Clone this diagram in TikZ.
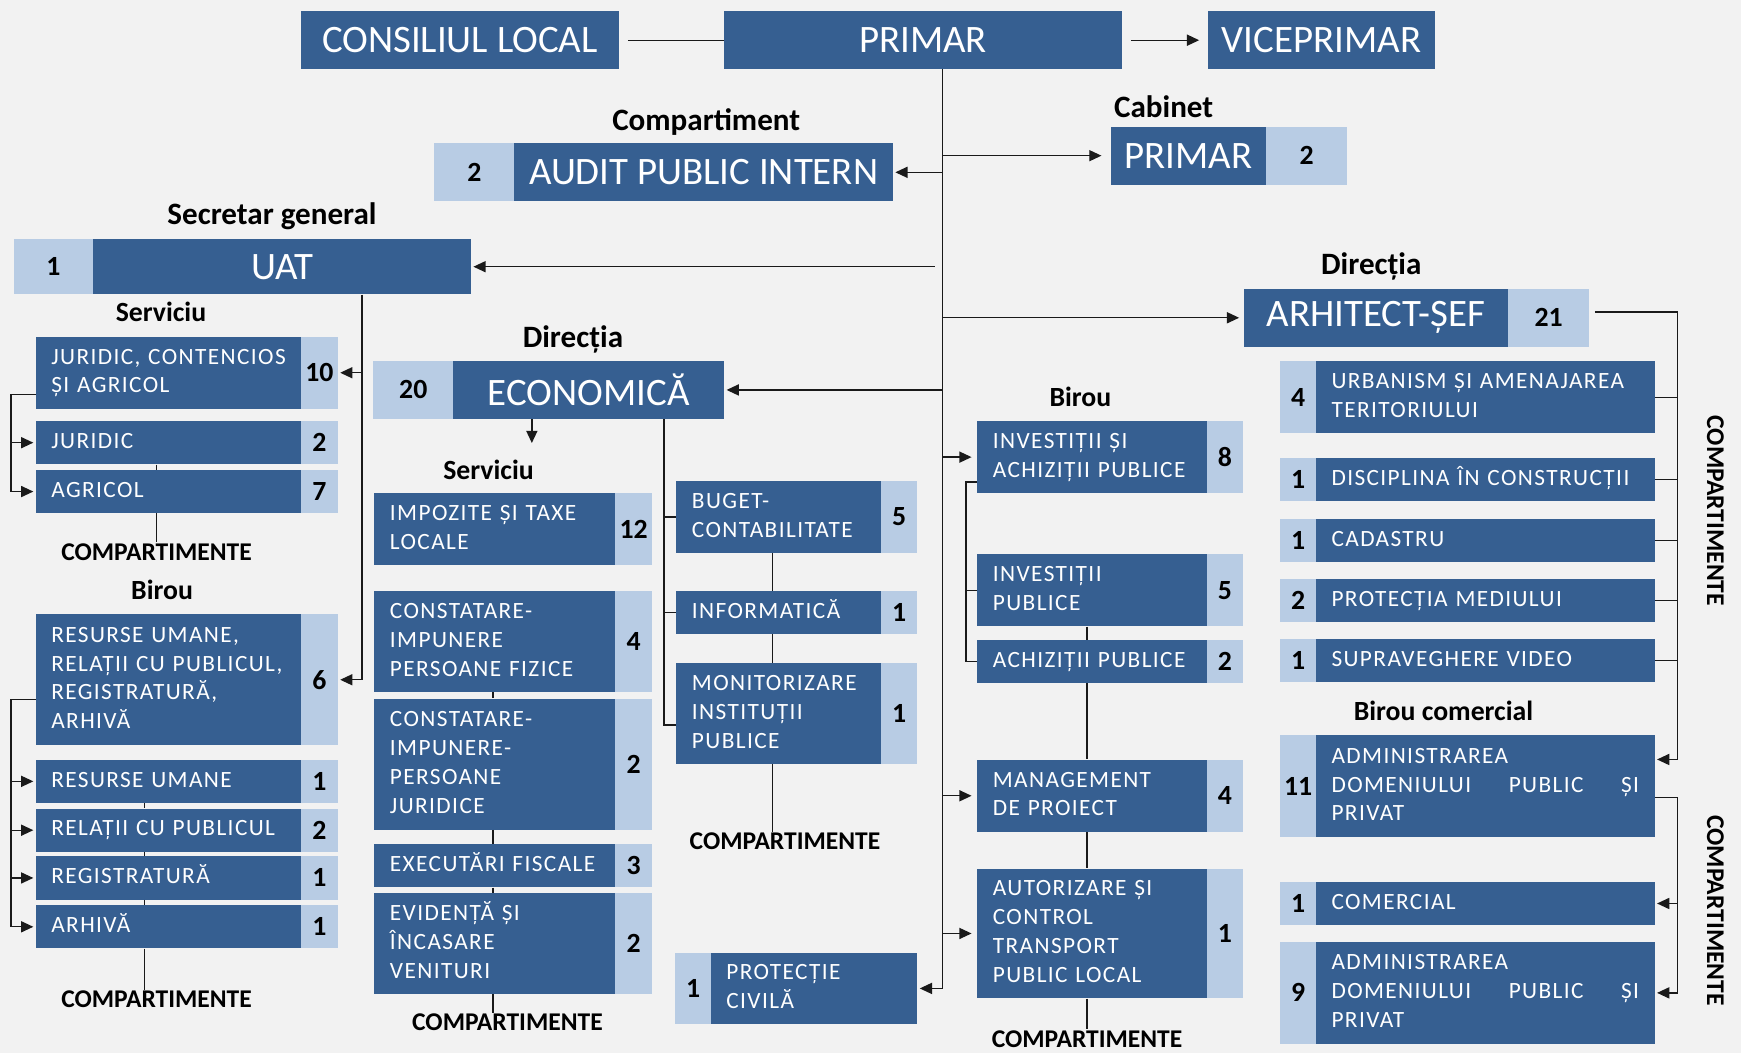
\documentclass[tikz,border=0pt]{standalone}
\usepackage{fontspec}
\setmainfont{Carlito}
\newfontfamily\boxfont[LetterSpace=6]{Carlito}
\usetikzlibrary{arrows.meta}
\definecolor{dkb}{HTML}{365F91}
\definecolor{ltb}{HTML}{B8CCE4}
\definecolor{bgc}{HTML}{F2F2F2}
\definecolor{lnc}{HTML}{1A1A1A}
\newcommand\bigf{\fontsize{35}{40}\selectfont}
\newcommand\smf{\boxfont\fontsize{21}{26}\selectfont}
\newcommand\numf{\bfseries\fontsize{25}{28}\selectfont}
\newcommand\lblf{\bfseries\fontsize{28}{32}\selectfont}
\newcommand\lblsf{\bfseries\fontsize{25}{30}\selectfont}
\newcommand\cmpf{\bfseries\fontsize{23}{26}\selectfont}
\newcommand\mytl[1]{\begin{tabular}{@{}l@{}}#1\end{tabular}}
\newcommand\bx[7]{%
  \pgfmathsetmacro\myBW{#5-#3}%
  \pgfmathsetmacro\myBH{#6-#4}%
  \pgfmathsetmacro\myTW{#5-#3-28}%
  \node[#1, anchor=north west, minimum width=\myBW pt, minimum height=\myBH pt] (#2) at (#3,#4) {#7};%
}
\tikzset{
  bbox/.style={fill=dkb, draw=none, inner sep=0pt, text=white, font=\bigf, align=center},
  sbox/.style={fill=dkb, draw=none, inner ysep=0pt, inner xsep=14pt, text=white, font=\smf, text width=\myTW pt, align=left},
  nbox/.style={fill=ltb, draw=none, inner sep=0pt, text=black, font=\numf, align=center},
  lbl/.style={font=\lblf, inner sep=1pt},
  lbls/.style={font=\lblsf, inner sep=1pt},
  cmp/.style={font=\cmpf, inner sep=1pt},
  ln/.style={draw=lnc, line width=1.2pt},
  arr/.style={ln, -{Triangle[length=11pt,width=10pt]}, shorten >=2pt},
}
\begin{document}
\begin{tikzpicture}[x=1pt,y=-1pt]
\fill[bgc] (0,0) rectangle (1568,948);
\useasboundingbox (0,0) rectangle (1568,948);

% top row
\bx{bbox}{cl}{271}{10}{557}{62}{CONSILIUL LOCAL}
\bx{bbox}{pr}{652}{10}{1010}{62}{PRIMAR}
\bx{bbox}{vp}{1088}{10}{1292}{62}{VICEPRIMAR}

% audit
\node[lbl] (lcomp) at (636,110) {Compartiment};
\bx{nbox}{auN}{391}{129}{463}{181}{2}
\bx{bbox}{au}{463}{129}{804}{181}{AUDIT PUBLIC INTERN}

% cabinet
\node[lbl] (lcab) at (1048,96) {Cabinet};
\bx{bbox}{cab}{1000}{114}{1140}{166}{PRIMAR}
\bx{nbox}{cabN}{1140}{114}{1213}{166}{2}

% UAT
\node[lbl] (lsg) at (245,195) {Secretar general};
\bx{nbox}{uaN}{12}{215}{84}{265}{1}
\bx{bbox}{uat}{84}{215}{424}{265}{UAT}

% arhitect
\node[lbl] (ld2) at (1235,240) {Direcția};
\bx{bbox}{ar}{1120}{260}{1358}{312}{ARHITECT-ȘEF}
\bx{nbox}{arN}{1358}{260}{1431}{312}{21}

% Serviciu juridic
\node[lbls] (ls1) at (145,281) {Serviciu};
\bx{sbox}{jc}{32}{303}{271}{368}{\mytl{JURIDIC, CONTENCIOS\\ȘI AGRICOL}}
\bx{nbox}{jcN}{271}{303}{304}{368}{10}
\bx{sbox}{ju}{32}{379}{271}{418}{\mytl{JURIDIC}}
\bx{nbox}{juN}{271}{379}{304}{418}{2}
\bx{sbox}{ag}{32}{423}{271}{462}{\mytl{AGRICOL}}
\bx{nbox}{agN}{271}{423}{304}{462}{7}
\node[cmp] (c1) at (141,497) {COMPARTIMENTE};

% Birou resurse
\node[lbls] (lb1) at (146,531) {Birou};
\bx{sbox}{rr}{32}{553}{271}{671}{\mytl{RESURSE UMANE,\\RELAȚII CU PUBLICUL,\\REGISTRATURĂ,\\ARHIVĂ}}
\bx{nbox}{rrN}{271}{553}{304}{671}{6}
\bx{sbox}{ru}{32}{684}{271}{723}{\mytl{RESURSE UMANE}}
\bx{nbox}{ruN}{271}{684}{304}{723}{1}
\bx{sbox}{rp}{32}{728}{271}{767}{\mytl{RELAȚII CU PUBLICUL}}
\bx{nbox}{rpN}{271}{728}{304}{767}{2}
\bx{sbox}{rg}{32}{771}{271}{810}{\mytl{REGISTRATURĂ}}
\bx{nbox}{rgN}{271}{771}{304}{810}{1}
\bx{sbox}{ah}{32}{815}{271}{854}{\mytl{ARHIVĂ}}
\bx{nbox}{ahN}{271}{815}{304}{854}{1}
\node[cmp] (c2) at (141,900) {COMPARTIMENTE};

% economica
\node[lbl] (ld1) at (516,306) {Direcția};
\bx{nbox}{ecN}{336}{325}{408}{377}{20}
\bx{bbox}{ec}{408}{325}{652}{377}{ECONOMICĂ}
\node[lbls] (ls2) at (440,423) {Serviciu};
\bx{sbox}{im}{337}{444}{554}{509}{\mytl{IMPOZITE ȘI TAXE\\LOCALE}}
\bx{nbox}{imN}{554}{444}{587}{509}{12}
\bx{sbox}{pf}{337}{532}{554}{623}{\mytl{CONSTATARE-\\IMPUNERE\\PERSOANE FIZICE}}
\bx{nbox}{pfN}{554}{532}{587}{623}{4}
\bx{sbox}{pj}{337}{629}{554}{747}{\mytl{CONSTATARE-\\IMPUNERE-\\PERSOANE\\JURIDICE}}
\bx{nbox}{pjN}{554}{629}{587}{747}{2}
\bx{sbox}{ex}{337}{760}{554}{799}{\mytl{EXECUTĂRI FISCALE}}
\bx{nbox}{exN}{554}{760}{587}{799}{3}
\bx{sbox}{ev}{337}{804}{554}{895}{\mytl{EVIDENȚĂ ȘI\\ÎNCASARE\\VENITURI}}
\bx{nbox}{evN}{554}{804}{587}{895}{2}
\node[cmp] (c3) at (457,921) {COMPARTIMENTE};

\bx{sbox}{bu}{609}{433}{793}{498}{\mytl{BUGET-\\CONTABILITATE}}
\bx{nbox}{buN}{793}{433}{826}{498}{5}
\bx{sbox}{inf}{609}{532}{793}{571}{\mytl{INFORMATICĂ}}
\bx{nbox}{infN}{793}{532}{826}{571}{1}
\bx{sbox}{mo}{609}{597}{793}{688}{\mytl{MONITORIZARE\\INSTITUȚII\\PUBLICE}}
\bx{nbox}{moN}{793}{597}{826}{688}{1}
\node[cmp] (c4) at (707,758) {COMPARTIMENTE};

% protectie civila
\bx{nbox}{pcN}{608}{858}{640}{922}{1}
\bx{sbox}{pc}{640}{858}{826}{922}{\mytl{PROTECȚIE\\CIVILĂ}}

% birou investitii
\node[lbls] (lb2) at (973,357) {Birou};
\bx{sbox}{ia}{880}{379}{1087}{444}{\mytl{INVESTIȚII ȘI\\ACHIZIȚII PUBLICE}}
\bx{nbox}{iaN}{1087}{379}{1119}{444}{8}
\bx{sbox}{ip}{880}{499}{1087}{564}{\mytl{INVESTIȚII\\PUBLICE}}
\bx{nbox}{ipN}{1087}{499}{1119}{564}{5}
\bx{sbox}{ap}{880}{576}{1087}{615}{\mytl{ACHIZIȚII PUBLICE}}
\bx{nbox}{apN}{1087}{576}{1119}{615}{2}
\bx{sbox}{mp}{880}{684}{1087}{749}{\mytl{MANAGEMENT\\DE PROIECT}}
\bx{nbox}{mpN}{1087}{684}{1119}{749}{4}
\bx{sbox}{at}{880}{782}{1087}{899}{\mytl{AUTORIZARE ȘI\\CONTROL\\TRANSPORT\\PUBLIC LOCAL}}
\bx{nbox}{atN}{1087}{782}{1119}{899}{1}
\node[cmp] (c5) at (979,936) {COMPARTIMENTE};

% right column
\bx{nbox}{urN}{1153}{325}{1185}{390}{4}
\bx{sbox}{ur}{1185}{325}{1490}{390}{\mytl{URBANISM ȘI AMENAJAREA\\TERITORIULUI}}
\bx{nbox}{diN}{1153}{412}{1185}{451}{1}
\bx{sbox}{di}{1185}{412}{1490}{451}{\mytl{DISCIPLINA ÎN CONSTRUCȚII}}
\bx{nbox}{caN}{1153}{467}{1185}{506}{1}
\bx{sbox}{ca}{1185}{467}{1490}{506}{\mytl{CADASTRU}}
\bx{nbox}{pmN}{1153}{521}{1185}{560}{2}
\bx{sbox}{pm}{1185}{521}{1490}{560}{\mytl{PROTECȚIA MEDIULUI}}
\bx{nbox}{svN}{1153}{575}{1185}{614}{1}
\bx{sbox}{sv}{1185}{575}{1490}{614}{\mytl{SUPRAVEGHERE VIDEO}}
\node[lbls] (lbc) at (1300,640) {Birou comercial};
\bx{nbox}{a1N}{1153}{662}{1185}{754}{11}
\bx{sbox}{a1}{1185}{662}{1490}{754}{\mytl{ADMINISTRAREA\\\hbox to 277pt{DOMENIULUI\hfill PUBLIC\hfill ȘI}\\PRIVAT}}
\bx{nbox}{coN}{1153}{794}{1185}{833}{1}
\bx{sbox}{co}{1185}{794}{1490}{833}{\mytl{COMERCIAL}}
\bx{nbox}{a2N}{1153}{848}{1185}{940}{9}
\bx{sbox}{a2}{1185}{848}{1490}{940}{\mytl{ADMINISTRAREA\\\hbox to 277pt{DOMENIULUI\hfill PUBLIC\hfill ȘI}\\PRIVAT}}
\node[cmp, rotate=-90] (c6) at (1545,460) {COMPARTIMENTE};
\node[cmp, rotate=-90] (c7) at (1545,820) {COMPARTIMENTE};

% ---------- connectors ----------
\coordinate (tx) at (849,0);
\draw[ln, shorten <=8pt] (cl.east) -- (pr.west);
\draw[arr, shorten <=8pt, shorten >=8pt] (pr.east) -- (vp.west);
\draw[arr] (pr.south -| tx) |- (pc.east);
\draw[arr] (au.east -| tx) -- (au.east);
\draw[arr, shorten >=8pt] (cab.west -| tx) -- (cab.west);
\draw[arr, shorten <=7pt] (uat.east -| tx) -- (uat.east);
\draw[arr, shorten >=4pt] (ar.west -| tx) -- (ar.west);
\draw[arr] (ec.east -| tx) -- (ec.east);
\draw[arr, shorten >=5pt] (ia.west -| tx) -- (ia.west);
\draw[arr, shorten >=5pt] (mp.west -| tx) -- (mp.west);
\draw[arr, shorten >=5pt] (at.west -| tx) -- (at.west);

% UAT branch
\coordinate (ux) at (326,0);
\draw[arr] (uat.south -| ux) |- (rrN.east);
\draw[arr] (jcN.east -| ux) -- (jcN.east);
\coordinate (jb) at (10,355);
\draw[arr] (jb -| jc.west) -- (jb) |- (ag.west);
\draw[arr] (jb |- ju.west) -- (ju.west);
\coordinate (k1) at (141,0);
\draw[ln] (ju.south -| k1) -- (ag.north -| k1);
\draw[ln] (ag.south -| k1) -- (c1.north -| k1);
\coordinate (rb) at (10,630);
\draw[arr] (rb -| rr.west) -- (rb) |- (ah.west);
\draw[arr] (rb |- ru.west) -- (ru.west);
\draw[arr] (rb |- rp.west) -- (rp.west);
\draw[arr] (rb |- rg.west) -- (rg.west);
\coordinate (k2) at (130,0);
\draw[ln] (ru.south -| k2) -- (rp.north -| k2);
\draw[ln] (rp.south -| k2) -- (rg.north -| k2);
\draw[ln] (rg.south -| k2) -- (ah.north -| k2);
\draw[ln] (ah.south -| k2) -- (c2.north -| k2);

% economica branch
\coordinate (ed) at (479,401);
\draw[arr] (ec.south -| ed) -- (ed);
\coordinate (k3) at (444,0);
\draw[ln] (pf.south -| k3) -- (pj.north -| k3);
\draw[ln] (pj.south -| k3) -- (ex.north -| k3);
\draw[ln] (ex.south -| k3) -- (ev.north -| k3);
\draw[ln] (ev.south -| k3) -- (c3.north -| k3);
\coordinate (eb) at (598,653);
\draw[ln] (ec.south -| eb) -- (eb) -- (eb -| mo.west);
\draw[ln] (bu.west -| eb) -- (bu.west);
\draw[ln] (inf.west -| eb) -- (inf.west);
\coordinate (k4) at (696,0);
\draw[ln] (bu.south -| k4) -- (inf.north -| k4);
\draw[ln] (inf.south -| k4) -- (mo.north -| k4);
\draw[ln] (mo.south -| k4) -- (c4.north -| k4);

% investitii branch
\coordinate (ib) at (870,434);
\draw[ln] (ib -| ia.west) -- (ib) |- (ap.west);
\draw[ln] (ib |- ip.west) -- (ip.west);
\coordinate (k5) at (979,0);
\draw[ln] (ip.south -| k5) -- (ap.north -| k5);
\draw[ln] (ap.south -| k5) -- (mp.north -| k5);
\draw[ln] (mp.south -| k5) -- (at.north -| k5);
\draw[ln] (at.south -| k5) -- (c5.north -| k5);

% arhitect branch
\coordinate (rx) at (1511,281);
\coordinate (ra) at (1511,684);
\draw[arr, shorten <=5pt] (rx -| arN.east) -- (rx) -- (ra) -- (ra -| a1.east);
\draw[ln] (ur.east) -- (ur.east -| rx);
\draw[ln] (di.east) -- (di.east -| rx);
\draw[ln] (ca.east) -- (ca.east -| rx);
\draw[ln] (pm.east) -- (pm.east -| rx);
\draw[ln] (sv.east) -- (sv.east -| rx);
\coordinate (rb2) at (1511,718);
\draw[arr] (rb2 -| a1.east) -- (rb2) |- (a2.east);
\draw[arr] (rb2 |- co.east) -- (co.east);
\end{tikzpicture}
\end{document}
